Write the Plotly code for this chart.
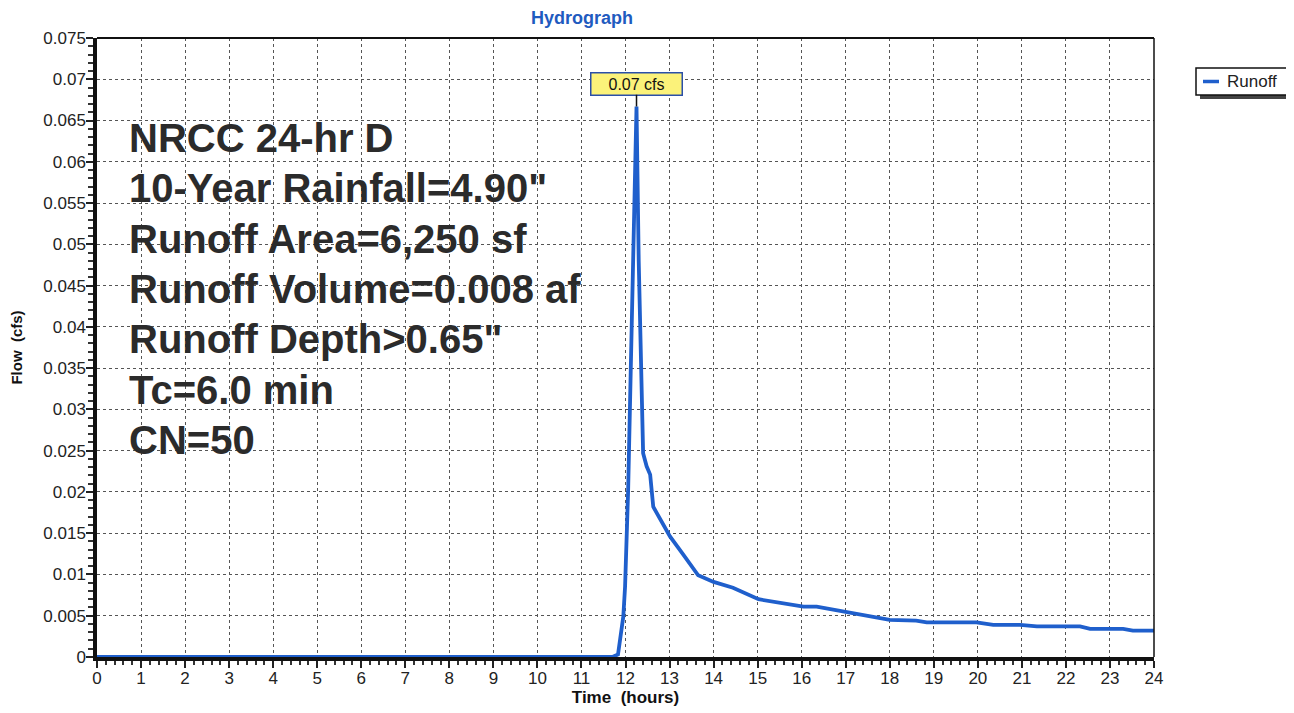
import plotly.graph_objects as go

# ---- data ----
time_hr = [0, 11.7, 11.83, 11.95, 11.99, 12.06, 12.12, 12.18, 12.25, 12.30, 12.34, 12.40,
           12.48, 12.56, 12.63, 13.01, 13.30, 13.65, 14.0, 14.44, 15.02, 15.5, 16.04,
           16.34, 17.02, 18.0, 18.6, 18.84, 19.97, 20.35, 20.96, 21.34, 22.32, 22.55,
           23.3, 23.52, 24.0]
flow_cfs = [0, 0, 0.0003, 0.0049, 0.0085, 0.0202, 0.035, 0.050, 0.0667, 0.048, 0.0364, 0.0247,
            0.0231, 0.0221, 0.0182, 0.0146, 0.0125, 0.0099, 0.0091, 0.0084, 0.0070, 0.0066, 0.0061,
            0.0061, 0.0054, 0.0045, 0.0044, 0.0042, 0.0042, 0.0039, 0.0039, 0.0037, 0.0037, 0.0034,
            0.0034, 0.0032, 0.0032]

x_ticks = list(range(0, 25))
x_ticklabels = [str(v) for v in x_ticks]
y_ticks = [i * 0.005 for i in range(16)]
y_ticklabels = ["0", "0.005", "0.01", "0.015", "0.02", "0.025", "0.03", "0.035", "0.04",
                "0.045", "0.05", "0.055", "0.06", "0.065", "0.07", "0.075"]

peak_time = 12.25
peak_flow = 0.0667
peak_label = "0.07 cfs"

info_lines = ["NRCC 24-hr D", "10-Year Rainfall=4.90\"", "Runoff Area=6,250 sf",
              "Runoff Volume=0.008 af", "Runoff Depth>0.65\"", "Tc=6.0 min", "CN=50"]

series_name = "Runoff"
line_color = "#1f5fcc"

FONT = "Liberation Sans, Arial, sans-serif"

# page body adds an 8px offset; work in figure pixels
OFF = 8
W, H = 1294 - OFF, 713 - OFF
L, T = 97 - OFF, 38 - OFF
R = W - (1154 - OFF)
B = H - (657 - OFF)
plot_w = W - L - R
plot_h = H - T - B


def px_x(sx):
    return (sx - OFF - L) / plot_w


def px_y(sy):
    return 1 - (sy - OFF - T) / plot_h


# ---- figure ----
fig = go.Figure()
fig.add_trace(go.Scatter(x=time_hr, y=flow_cfs, mode="lines", name=series_name,
                         line=dict(color=line_color, width=3.8), showlegend=False))

axis_font = dict(family=FONT, size=17, color="#222")
grid = dict(showgrid=True, gridcolor="#555", griddash="dot", gridwidth=1)

fig.update_layout(
    width=W, height=H,
    margin=dict(l=L, r=R, t=T, b=B, autoexpand=False),
    paper_bgcolor="white", plot_bgcolor="white",
    title=dict(text="<b>Hydrograph</b>", x=(582 - OFF) / W, xanchor="center", xref="container",
               y=1 - (18 - OFF) / H, yanchor="middle", yref="container",
               font=dict(family=FONT, size=18, color="#1f5bbf")),
    showlegend=False,
    xaxis=dict(range=[0, 24], tickvals=x_ticks, ticktext=x_ticklabels,
               ticks="outside", ticklen=7, tickwidth=1.5, tickcolor="#222",
               showline=True, linecolor="#111", linewidth=3.5, zeroline=False,
               tickfont=axis_font, automargin=False, ticklabelstandoff=-4,
               minor=dict(dtick=0.2, ticks="outside", ticklen=4, tickcolor="#333", showgrid=False),
               title=dict(text="<b>Time  (hours)</b>", standoff=4,
                          font=dict(family=FONT, size=17, color="#111")),
               **grid),
    yaxis=dict(range=[0, 0.075], tickvals=y_ticks, ticktext=y_ticklabels,
               ticks="outside", ticklen=7, tickwidth=1.5, tickcolor="#222",
               showline=True, linecolor="#111", linewidth=3.5, zeroline=False,
               tickfont=axis_font, automargin=False, ticklabelstandoff=-3,
               minor=dict(dtick=0.001, ticks="outside", ticklen=5, tickcolor="#333", showgrid=False),
               title=dict(text="<b>Flow  (cfs)</b>", standoff=18,
                          font=dict(family=FONT, size=15, color="#111")),
               **grid),
)

# top and right frame lines
fig.add_shape(type="line", xref="paper", yref="paper", x0=0, x1=1, y0=1, y1=1,
              line=dict(color="#111", width=2))
fig.add_shape(type="line", xref="paper", yref="paper", x0=1, x1=1, y0=0, y1=1,
              line=dict(color="#111", width=1.5))

# legend box (shadow, frame, sample line, label)
fig.add_shape(type="rect", xref="paper", yref="paper",
              x0=px_x(1200), x1=px_x(1294), y0=px_y(99), y1=px_y(72),
              fillcolor="#444", line=dict(width=0), layer="above")
fig.add_shape(type="rect", xref="paper", yref="paper",
              x0=px_x(1196), x1=px_x(1290), y0=px_y(95), y1=px_y(68),
              fillcolor="white", line=dict(color="#111", width=1.5), layer="above")
fig.add_shape(type="line", xref="paper", yref="paper",
              x0=px_x(1203), x1=px_x(1219), y0=px_y(81.5), y1=px_y(81.5),
              line=dict(color=line_color, width=3.5), layer="above")
fig.add_annotation(xref="paper", yref="paper", x=px_x(1225), y=px_y(81.5),
                   xanchor="left", yanchor="middle", showarrow=False, text=series_name,
                   font=dict(family=FONT, size=17, color="#222"))

# peak annotation
fig.add_annotation(x=peak_time, y=peak_flow, text=peak_label, showarrow=True,
                   arrowhead=0, arrowwidth=1.5, arrowcolor="#111", ax=0, ay=-23,
                   width=86, height=17,
                   bgcolor="#fbf27a", bordercolor="#2a4fa8", borderwidth=1.5, borderpad=2,
                   font=dict(family=FONT, size=16, color="#111"))

# info text block
first_y = 138
spacing = 50.3
for i, line in enumerate(info_lines):
    fig.add_annotation(xref="paper", yref="paper", x=px_x(127),
                       y=px_y(first_y + i * spacing), xanchor="left", yanchor="middle",
                       text="<b>" + line + "</b>", showarrow=False,
                       font=dict(family=FONT, size=40, color="#2b2b2b"))

fig.write_html("out.html")
